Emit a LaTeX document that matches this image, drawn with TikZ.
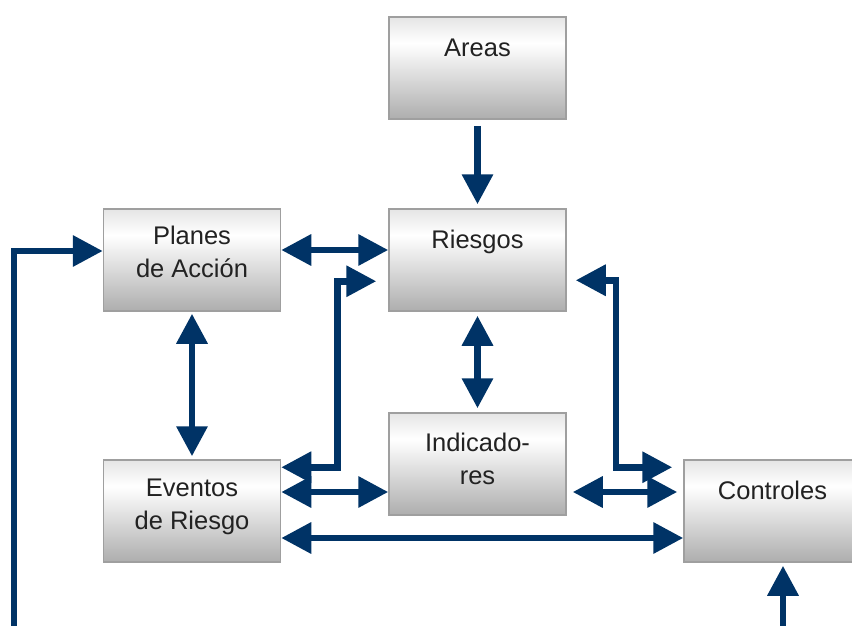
\documentclass[tikz,border=0pt]{standalone}
\usepackage{fontspec}
\setmainfont{Liberation Sans}
\usepackage{xcolor}
\usepackage{tikz}
\usetikzlibrary{positioning,arrows.meta,calc}

\definecolor{navy}{RGB}{0,51,102}
\definecolor{ink}{RGB}{34,34,34}
\pgfdeclareverticalshading{blkshade}{100bp}{color(0bp)=(gray!64); color(25bp)=(gray!64); color(62bp)=(white); color(75bp)=(gray!20); color(100bp)=(gray!20)}

\tikzset{
  blk/.style={draw=gray!75, line width=1.5pt, shading=blkshade, minimum width=177pt, minimum height=102pt, inner sep=0pt},
  lbl/.style={align=center, inner sep=0pt, text=ink, font=\fontsize{25.5}{33}\selectfont},
  link/.style={navy, line width=6.5pt}
}

\begin{document}
\begin{tikzpicture}[x=1pt, y=-1pt, >={Triangle[length=30pt,width=30pt]}]
  \clip (0,0) rectangle (852,626);
  % ---- boxes
  \node[blk] (areas) at (477.5,68) {};
  \node[blk] (planes) at (192,260) {};
  \node[blk] (riesgos) at (477.5,260) {};
  \node[blk] (indicadores) at (477.5,464) {};
  \node[blk] (eventos) at (192,511) {};
  \node[blk] (controles) at (772.5,511) {};
  % ---- box texts, hung from the top edge
  \node[lbl, below=23pt of areas.north] (areasT) {Areas};
  \node[lbl, below=18pt of planes.north] (planesT) {Planes\\de Acción};
  \node[lbl, below=22pt of riesgos.north] (riesgosT) {Riesgos};
  \node[lbl, below=21pt of indicadores.north] (indicadoresT) {Indicado-\\res};
  \node[lbl, below=20pt of eventos.north] (eventosT) {Eventos\\de Riesgo};
  \node[lbl, below=22pt of controles.north] (controlesT) {Controles};
  % ---- free ends at the bottom edge
  \coordinate (inL) at (14,632);
  \coordinate (inC) at (783,632);
  % ---- connectors
  \draw[link, ->] ([yshift=-6pt]areas.south) -- ([yshift=4pt]riesgos.north);
  \draw[link, <->] ([yshift=10pt]planes.east) -- ([yshift=10pt]riesgos.west);
  \draw[link, <->] ([yshift=-2pt]planes.south) -- ([yshift=3pt]eventos.north);
  \draw[link, <->] ([yshift=-4pt]riesgos.south) -- ([yshift=4pt]indicadores.north);
  \draw[link, <->] ([yshift=-8pt]eventos.north east) -| ([xshift=-51pt,yshift=-73pt]riesgos.north west)
    -- ([xshift=-12pt,yshift=-73pt]riesgos.north west);
  \draw[link, <->] ([xshift=9pt,yshift=-72pt]riesgos.north east) -- ([xshift=49pt,yshift=-72pt]riesgos.north east)
    |- ([xshift=-11pt,yshift=-8pt]controles.north west);
  \draw[link, <->] ([yshift=19pt]eventos.east) -- ([yshift=19pt]eventos.east -| indicadores.west);
  \draw[link, <->] ([yshift=-27pt]eventos.east) -- ([yshift=-27pt]eventos.east -| controles.west);
  \draw[link, <->] ([xshift=6pt,yshift=-28pt]indicadores.east) -- ([xshift=-6pt,yshift=-28pt]indicadores.east -| controles.west);
  \draw[link, ->] (inL) |- ([yshift=9pt]planes.west);
  \draw[link, ->] (inC) -- ([yshift=-3pt]inC |- controles.south);
\end{tikzpicture}
\end{document}
